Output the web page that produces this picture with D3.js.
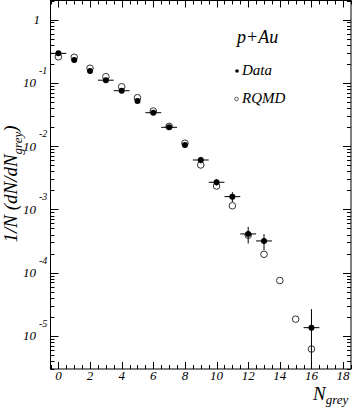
<!DOCTYPE html>
<html><head><meta charset="utf-8">
<script src="https://cdn.jsdelivr.net/npm/d3@7"></script>
<style>body{margin:0;background:#fff}svg{display:block}text{font-family:"Liberation Serif","DejaVu Serif",serif;font-style:italic;fill:#000}</style>
</head><body><svg id="c" width="352" height="415"></svg>
<script>
// Data
const dataN    = [0,1,2,3,4,5,6,7,8,9,10,11,12,13,16];
const dataVal  = [0.292,0.229,0.154,0.110,0.075,0.0516,0.0337,0.0198,0.0104,0.00603,0.00268,0.00159,0.000409,0.000317,1.35e-5];
const dataYErr = [0,0,0,0,0,0,0,0,0,0.0007,0.0003,0.00028,0.00012,0.00009,1.3e-5];
const dataXErr = [0.5,0,0,0.5,0.5,0,0.5,0.5,0,0.5,0.5,0.5,0.5,0.5,0.5];
const rqmdN    = [0,1,2,3,4,5,6,7,8,9,10,11,12,13,14,15,16];
const rqmdVal  = [0.258,0.253,0.170,0.125,0.0867,0.0582,0.0358,0.0205,0.0111,0.00503,0.00234,0.00114,0.00039,0.000195,7.5e-5,1.84e-5,6.2e-6];
const xLabels  = [0,2,4,6,8,10,12,14,16,18];
const yDecades = [0,-1,-2,-3,-4,-5];
const titleText = "p+Au";
const legendLabels = ["Data","RQMD"];

const svg = d3.select("#c");
const L=50.5, R=351, T=0.5, B=369;
const x = d3.scaleLinear().domain([-0.5,18.5]).range([L,R]);
const y = d3.scaleLog().domain([3e-6,2]).range([B,T]);

// frame
svg.append("rect").attr("x",L).attr("y",T).attr("width",R-L).attr("height",B-T)
  .attr("fill","none").attr("stroke","#000").attr("stroke-width",1);

// x ticks (bottom & top)
const xt = d3.range(-0.5,18.51,0.5);
xt.forEach(v=>{
  const major = Math.abs(v%2)<1e-9;
  const len = major?7:4;
  const px = Math.round(x(v))+0.5;
  svg.append("line").attr("x1",px).attr("x2",px).attr("y1",B).attr("y2",B-len).attr("stroke","#000");
  svg.append("line").attr("x1",px).attr("x2",px).attr("y1",T).attr("y2",T+len).attr("stroke","#000");
});
xLabels.forEach(v=>{
  svg.append("text").attr("x",x(v)).attr("y",380).attr("text-anchor","middle").attr("font-size",13).text(v);
});

// y ticks (left & right)
const yt=[];
for(let e=-6;e<=0;e++) for(let m=1;m<=9;m++){const v=m*Math.pow(10,e); if(v>=3e-6&&v<=2) yt.push({v,major:m===1});}
yt.forEach(t=>{
  const py=Math.round(y(t.v))+0.5;
  const len=t.major?8:4;
  svg.append("line").attr("x1",L).attr("x2",L+len).attr("y1",py).attr("y2",py).attr("stroke","#000");
  svg.append("line").attr("x1",R).attr("x2",R-len).attr("y1",py).attr("y2",py).attr("stroke","#000");
});
yDecades.forEach(e=>{
  const py=y(Math.pow(10,e));
  if(e===0){
    svg.append("text").attr("x",40).attr("y",py+4.5).attr("text-anchor","end").attr("font-size",13).text("1");
  } else {
    svg.append("text").attr("x",36).attr("y",py+4.5).attr("text-anchor","end").attr("font-size",13).text("10");
    svg.append("text").attr("x",39).attr("y",py-9).attr("text-anchor","start").attr("font-size",10).text(e);
  }
});

// axis titles
const xt1=svg.append("text").attr("x",313).attr("y",400).attr("font-size",19);
xt1.append("tspan").text("N");
xt1.append("tspan").attr("font-size",13).attr("dy",4).text("grey");

const yt1=svg.append("text").attr("transform","translate(17,184) rotate(-90)").attr("text-anchor","middle").attr("font-size",19);
yt1.append("tspan").text("1/N (dN/dN");
yt1.append("tspan").attr("font-size",13).attr("dy",5).text("grey");
yt1.append("tspan").attr("dy",-5).text(")");

// RQMD open circles
svg.append("g").selectAll("circle").data(rqmdN.map((n,i)=>({n,v:rqmdVal[i]}))).join("circle")
  .attr("cx",d=>x(d.n)).attr("cy",d=>y(d.v)).attr("r",3.3)
  .attr("fill","none").attr("stroke","#333").attr("stroke-width",1);

// Data error bars + markers
const dd = dataN.map((n,i)=>({n,v:dataVal[i],ey:dataYErr[i],ex:dataXErr[i]}));
const g = svg.append("g");
dd.forEach(d=>{
  if(d.ex>0) g.append("line").attr("x1",x(d.n-d.ex)).attr("x2",x(d.n+d.ex)).attr("y1",y(d.v)).attr("y2",y(d.v)).attr("stroke","#000");
  if(d.ey>0){
    const lo = Math.max(d.v-d.ey,3e-6);
    g.append("line").attr("x1",x(d.n)).attr("x2",x(d.n)).attr("y1",y(d.v+d.ey)).attr("y2",y(lo)).attr("stroke","#000");
  }
});
g.selectAll("circle").data(dd).join("circle")
  .attr("cx",d=>x(d.n)).attr("cy",d=>y(d.v)).attr("r",3).attr("fill","#000");

// legend
svg.append("text").attr("x",237).attr("y",43).attr("font-size",18).text(titleText);
svg.append("circle").attr("cx",237).attr("cy",71).attr("r",1.8).attr("fill","#000");
svg.append("text").attr("x",242).attr("y",75).attr("font-size",15).text(legendLabels[0]);
svg.append("circle").attr("cx",236.5).attr("cy",99).attr("r",1.8).attr("fill","none").attr("stroke","#333").attr("stroke-width",0.8);
svg.append("text").attr("x",242).attr("y",103).attr("font-size",15).text(legendLabels[1]);
</script></body></html>
